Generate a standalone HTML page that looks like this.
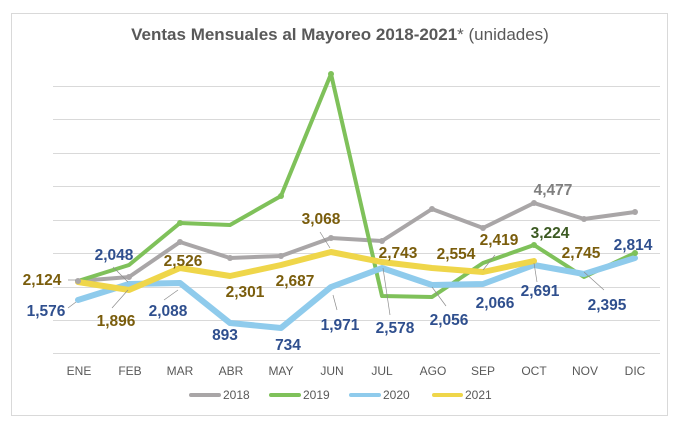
<!DOCTYPE html>
<html><head><meta charset="utf-8"><style>
html,body{margin:0;padding:0;background:#fff;}
svg{display:block;font-family:"Liberation Sans",sans-serif;}
.l{font-weight:bold;font-size:15.5px;text-anchor:middle;}
.g{fill:#7f7f7f}.gr{fill:#3c5a22}.b{fill:#2f4f8e}.y{fill:#7a5d0c}
.ax{font-size:12px;fill:#595959;text-anchor:middle;}
</style></head><body>
<svg width="683" height="430" viewBox="0 0 683 430">
<rect x="11.5" y="13.5" width="656" height="402" fill="#fff" stroke="#d9d9d9"/>
<text x="340" y="40" text-anchor="middle" font-size="17" fill="#595959"><tspan font-weight="bold">Ventas Mensuales al Mayoreo 2018-2021</tspan>* (unidades)</text>
<g stroke="#d9d9d9" stroke-width="1">
<line x1="53" x2="660" y1="86.5" y2="86.5"/><line x1="53" x2="660" y1="119.5" y2="119.5"/>
<line x1="53" x2="660" y1="153.5" y2="153.5"/><line x1="53" x2="660" y1="186.5" y2="186.5"/>
<line x1="53" x2="660" y1="220.5" y2="220.5"/><line x1="53" x2="660" y1="253.5" y2="253.5"/>
<line x1="53" x2="660" y1="287.5" y2="287.5"/><line x1="53" x2="660" y1="320.5" y2="320.5"/>
<line x1="53" x2="660" y1="353.5" y2="353.5"/>
</g>
<g fill="none" stroke-linejoin="round" stroke-linecap="round">
<polyline stroke="#a9a6a7" stroke-width="4" points="78,281 129,277 180,242 230,258 281,256 331,238 382,241 432,209 483,228 534,203 584,219 635,212"/>
<polyline stroke="#7fc15a" stroke-width="4" points="78,281 129,265 180,223 230,225 281,196 331,74 382,296 432,297 483,263 534,245 584,277 635,253"/>
<polyline stroke="#8fcbec" stroke-width="6" points="78,300 129,284 180,283 230,323 281,328 331,287 382,268 432,285 483,284 534,265 584,274 635,258"/>
<polyline stroke="#efd64a" stroke-width="6" points="78,282 129,290 180,268 230,276 281,265 331,252 382,262 432,268 483,272 534,261"/>
</g>
<g fill="#a9a6a7"><circle cx="78" cy="281" r="3"/><circle cx="129" cy="277" r="3"/><circle cx="180" cy="242" r="3"/><circle cx="230" cy="258" r="3"/><circle cx="281" cy="256" r="3"/><circle cx="331" cy="238" r="3"/><circle cx="382" cy="241" r="3"/><circle cx="432" cy="209" r="3"/><circle cx="483" cy="228" r="3"/><circle cx="534" cy="203" r="3"/><circle cx="584" cy="219" r="3"/><circle cx="635" cy="212" r="3"/></g>
<g fill="#7fc15a"><circle cx="331" cy="74" r="3"/><circle cx="281" cy="196" r="3"/><circle cx="180" cy="223" r="3"/><circle cx="635" cy="253" r="3"/><circle cx="534" cy="245" r="3"/></g>
<g stroke="#8c8c8c" stroke-width="0.7">
<line x1="68" y1="280" x2="76" y2="280"/><line x1="68" y1="308" x2="76" y2="302"/>
<line x1="112" y1="308" x2="128" y2="290"/><line x1="113" y1="267" x2="128" y2="282"/>
<line x1="164" y1="300" x2="178" y2="290"/><line x1="320" y1="232" x2="330" y2="248"/>
<line x1="333" y1="295" x2="337" y2="310"/><line x1="383" y1="268" x2="390" y2="315"/>
<line x1="432" y1="287" x2="446" y2="306"/><line x1="483" y1="270" x2="495" y2="255"/>
<line x1="534" y1="263" x2="537" y2="282"/><line x1="584" y1="272" x2="604" y2="290"/>
</g>
<text class="l y" x="42" y="285">2,124</text>
<text class="l b" x="46" y="316">1,576</text>
<text class="l b" x="114" y="260">2,048</text>
<text class="l y" x="116" y="326">1,896</text>
<text class="l y" x="183" y="266">2,526</text>
<text class="l b" x="168" y="316">2,088</text>
<text class="l y" x="245" y="297">2,301</text>
<text class="l b" x="225" y="340">893</text>
<text class="l y" x="295" y="286">2,687</text>
<text class="l b" x="288" y="350">734</text>
<text class="l y" x="321" y="224">3,068</text>
<text class="l b" x="340" y="330">1,971</text>
<text class="l y" x="398" y="258">2,743</text>
<text class="l b" x="395" y="333">2,578</text>
<text class="l y" x="456" y="259">2,554</text>
<text class="l b" x="449" y="325">2,056</text>
<text class="l y" x="499" y="245">2,419</text>
<text class="l b" x="495" y="308">2,066</text>
<text class="l g" x="553" y="195">4,477</text>
<text class="l gr" x="550" y="238">3,224</text>
<text class="l b" x="540" y="296">2,691</text>
<text class="l y" x="581" y="258">2,745</text>
<text class="l b" x="607" y="310">2,395</text>
<text class="l b" x="633" y="250">2,814</text>
<g class="ax">
<text x="79" y="375">ENE</text><text x="130" y="375">FEB</text><text x="180" y="375">MAR</text><text x="231" y="375">ABR</text><text x="281" y="375">MAY</text><text x="332" y="375">JUN</text><text x="382" y="375">JUL</text><text x="433" y="375">AGO</text><text x="483" y="375">SEP</text><text x="534" y="375">OCT</text><text x="585" y="375">NOV</text><text x="635" y="375">DIC</text>
</g>
<g font-size="12" fill="#595959" stroke-linecap="round">
<line x1="191" x2="219" y1="395" y2="395" stroke="#a9a6a7" stroke-width="4"/><text x="223" y="399">2018</text>
<line x1="271" x2="299" y1="395" y2="395" stroke="#7fc15a" stroke-width="4"/><text x="303" y="399">2019</text>
<line x1="351" x2="379" y1="395" y2="395" stroke="#8fcbec" stroke-width="4"/><text x="383" y="399">2020</text>
<line x1="434" x2="461" y1="395" y2="395" stroke="#efd64a" stroke-width="4"/><text x="465" y="399">2021</text>
</g>
</svg>
</body></html>
